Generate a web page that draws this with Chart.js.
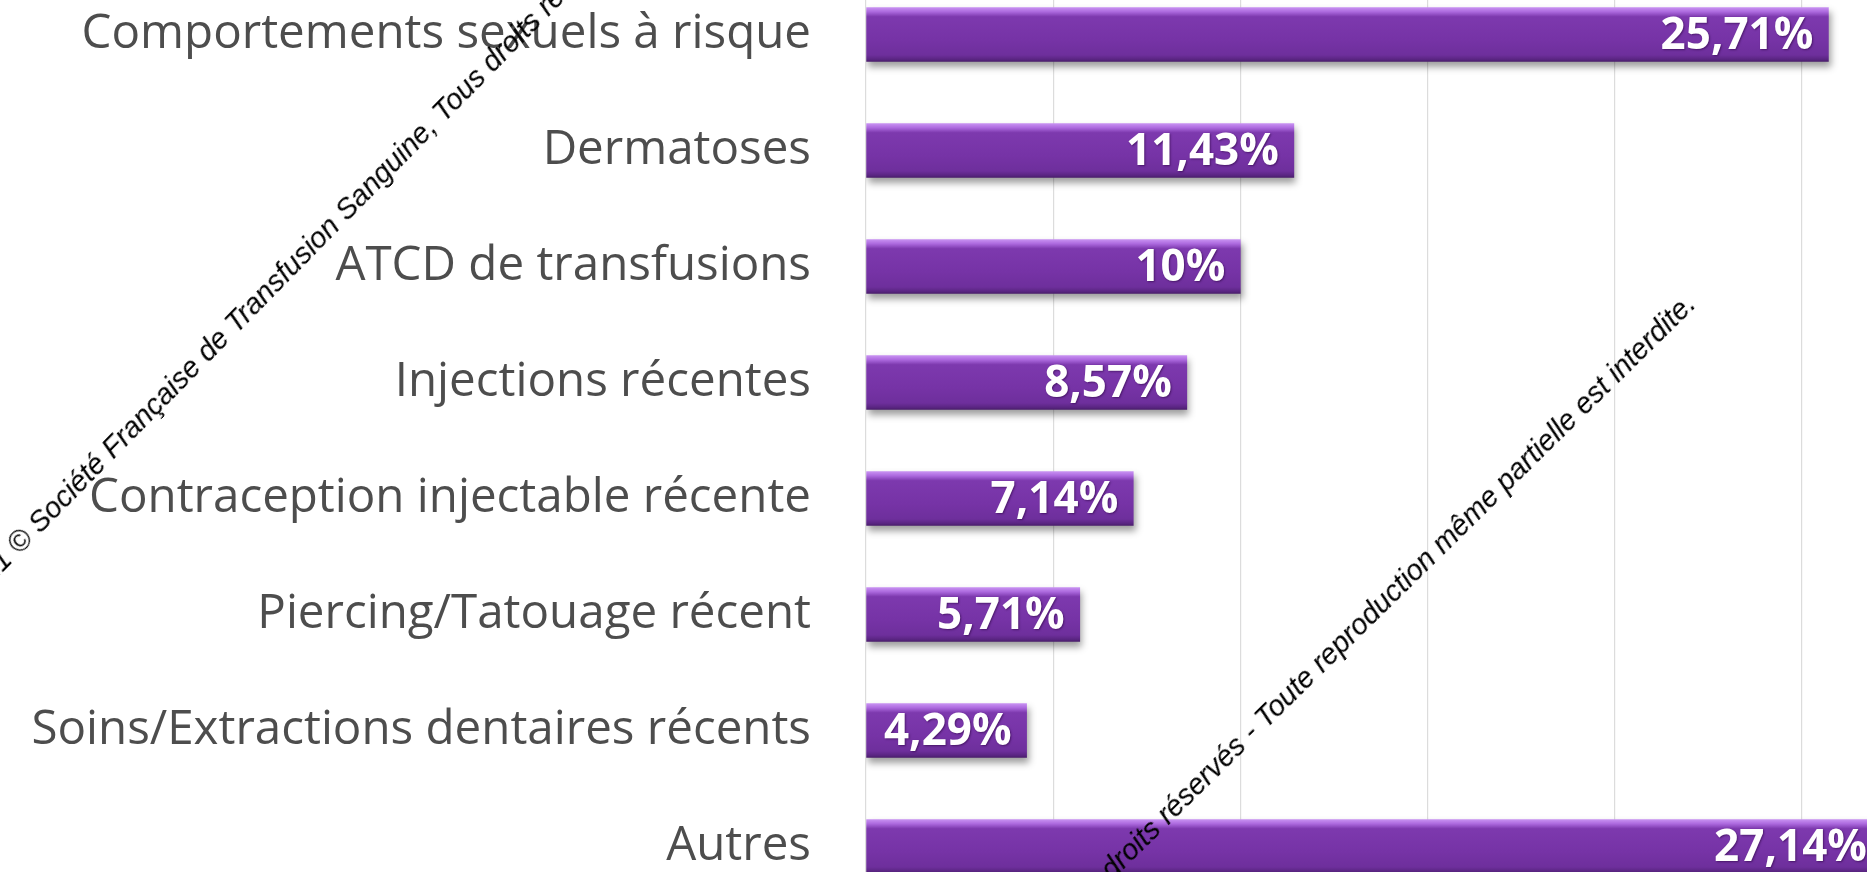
<!DOCTYPE html>
<html lang="fr">
<head>
<meta charset="utf-8">
<script src="https://cdn.jsdelivr.net/npm/chart.js@4.4.1/dist/chart.umd.min.js"></script>
<style>
  html, body { margin: 0; padding: 0; background: #ffffff; overflow: hidden; }
  #stage { position: relative; width: 1867px; height: 872px; overflow: hidden; background: #fff; }
  #wrap { position: absolute; left: 0; top: -107.5px; width: 1989px; height: 1095px; }
  .wm { position: absolute; left: 0; top: 0; white-space: nowrap; font-family: "Liberation Sans", Arial, sans-serif;
        font-style: italic; font-size: 29px; line-height: 1; color: #000; z-index: 5; }
</style>
</head>
<body>
<div id="stage">
  <div id="wrap"><canvas id="c" width="1989" height="1095"></canvas></div>
  <div class="wm" id="wm1">2021 <span id="a1">©</span> Société Française de Transfusion Sanguine, Tous droits réservés - Toute reproduction même partielle est interdite.</div>
  <div class="wm" id="wm2">2021 © Société Française de Transfusion Sanguine, Tous <span id="a2">droits</span> réservés - Toute reproduction même partielle est interdite.</div>
</div>
<script>
// ---- data ----
const categories = [
  "Comportements sexuels à risque",
  "Dermatoses",
  "ATCD de transfusions",
  "Injections récentes",
  "Contraception injectable récente",
  "Piercing/Tatouage récent",
  "Soins/Extractions dentaires récents",
  "Autres"
];
const values = [25.71, 11.43, 10, 8.57, 7.14, 5.71, 4.29, 27.14];
const xMin = 0;
const xMax = 30;
const xStep = 5;

function fmt(v) { return String(v).replace('.', ',') + '%'; }

const BAR_H = 54;

// ---- watermark placement ----
function placeLine(el, anchor, tx, ty, ang) {
  const fs = 29;
  const a = anchor.offsetLeft;
  const base = 0.85 * fs;
  el.style.transformOrigin = a + 'px ' + base + 'px';
  el.style.left = (tx - a) + 'px';
  el.style.top = (ty - base) + 'px';
  el.style.transform = 'rotate(' + ang + 'deg)';
}
placeLine(document.getElementById('wm1'), document.getElementById('a1'), 20, 556, -45.5);
placeLine(document.getElementById('wm2'), document.getElementById('a2'), 1112, 882, -44.5);

function barFill(c) {
  const solid = '#7634a6';
  try {
    const chart = c.chart;
    const ys = chart.scales && chart.scales.y;
    if (!ys || c.dataIndex == null) return solid;
    const yc = ys.getPixelForValue(c.dataIndex);
    if (!isFinite(yc)) return solid;
    const t = yc - BAR_H / 2, b = yc + BAR_H / 2;
    const g = chart.ctx.createLinearGradient(0, t, 0, b);
    g.addColorStop(0.00, '#c891f2');
    g.addColorStop(0.08, '#ac69de');
    g.addColorStop(0.17, '#7d39ae');
    g.addColorStop(0.60, '#7633a6');
    g.addColorStop(0.88, '#6e2f9c');
    g.addColorStop(0.96, '#5a2582');
    g.addColorStop(1.00, '#4a1d6c');
    return g;
  } catch (e) { return solid; }
}

const barDeco = {
  id: 'barDeco',
  beforeDatasetsDraw(chart) {
    const ctx = chart.ctx;
    ctx.save();
    ctx.shadowColor = 'rgba(0,0,0,0.38)';
    ctx.shadowBlur = 7;
    ctx.shadowOffsetX = 2;
    ctx.shadowOffsetY = 5;
  },
  afterDatasetsDraw(chart) {
    const ctx = chart.ctx;
    ctx.restore();
    const meta = chart.getDatasetMeta(0);
    ctx.save();
    ctx.font = 'bold 44px "Open Sans", sans-serif';
    ctx.textAlign = 'right';
    ctx.textBaseline = 'middle';
    ctx.shadowColor = 'rgba(40,0,60,0.55)';
    ctx.shadowBlur = 2;
    ctx.shadowOffsetX = 1;
    ctx.shadowOffsetY = 1;
    ctx.fillStyle = '#ffffff';
    meta.data.forEach((el, i) => {
      ctx.fillText(fmt(values[i]), el.x - 15, el.y + 2);
    });
    ctx.restore();
  }
};

new Chart(document.getElementById('c'), {
  type: 'bar',
  data: {
    labels: categories,
    datasets: [{
      data: values,
      backgroundColor: barFill,
      borderWidth: 0,
      barThickness: BAR_H
    }]
  },
  options: {
    indexAxis: 'y',
    responsive: false,
    animation: false,
    devicePixelRatio: 1,
    layout: { padding: 0 },
    plugins: { legend: { display: false }, tooltip: { enabled: false } },
    scales: {
      x: {
        min: xMin, max: xMax,
        ticks: { display: false, stepSize: xStep },
        grid: { color: '#dcdcdc', lineWidth: 1.2, drawTicks: false },
        border: { display: false }
      },
      y: {
        grid: { display: false, drawTicks: false },
        border: { display: false },
        ticks: {
          color: '#4d4d4d',
          padding: 55,
          font: { family: '"Open Sans", sans-serif', size: 47.5 }
        },
        afterFit(scale) { scale.width = 866; }
      }
    }
  },
  plugins: [barDeco]
});
</script>
</body>
</html>
